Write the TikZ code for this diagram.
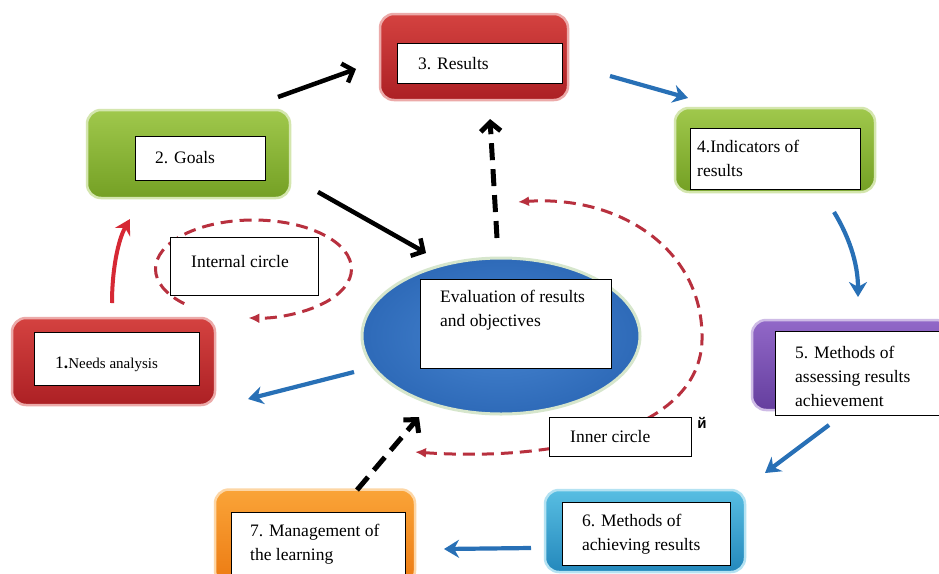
\documentclass[tikz,border=0pt]{standalone}
\usepackage{fontspec}
\setmainfont{Liberation Serif}
\newfontfamily\cyrfont{Liberation Sans}
\usetikzlibrary{arrows.meta,shapes.geometric}
\definecolor{redT}{RGB}{212,66,64}
\definecolor{redB}{RGB}{172,32,36}
\definecolor{grnT}{RGB}{160,200,76}
\definecolor{grnB}{RGB}{116,160,36}
\definecolor{purT}{RGB}{146,104,200}
\definecolor{purB}{RGB}{100,62,158}
\definecolor{cyaT}{RGB}{88,190,226}
\definecolor{cyaB}{RGB}{36,136,188}
\definecolor{orgT}{RGB}{250,164,56}
\definecolor{orgB}{RGB}{236,122,18}
\definecolor{elIn}{RGB}{70,132,208}
\definecolor{elOut}{RGB}{46,106,184}
\definecolor{elEdge}{RGB}{214,230,204}
\definecolor{arBlue}{RGB}{40,112,182}
\definecolor{dashRed}{RGB}{184,48,62}
\definecolor{arRed}{RGB}{214,40,52}
\begin{document}
\begin{tikzpicture}[x=1pt,y=-1pt,
  cbox/.style={rounded corners=14pt, inner sep=0pt, line width=2.5pt},
  wbox/.style={draw=black, fill=white, line width=1pt, inner sep=0pt},
  lbl/.style={anchor=west, align=left, inner sep=0pt, font=\fontsize{17.5}{24}\selectfont},
  blkarrow/.style={draw=black, line width=4.5pt, -{Straight Barb[length=9pt,width=20pt]}},
  blkdash/.style={draw=black, line width=5pt, dash pattern=on 17pt off 9pt, -{Straight Barb[length=9pt,width=20pt]}},
  bluarrow/.style={draw=arBlue, line width=4.2pt, -{Stealth[length=15pt,width=18pt]}},
  redarrow/.style={draw=arRed, line width=4pt, -{Stealth[length=15pt,width=17pt]}},
  rdash/.style={draw=dashRed, line width=3pt, dash pattern=on 12pt off 7pt}
]
\useasboundingbox (0,0) rectangle (939,573);
\fill[white] (0,0) rectangle (939,573);

% coloured boxes
\node[cbox, top color=redT, bottom color=redB, draw=redT!45!white, minimum width=188pt, minimum height=86pt] (b3) at (474,57) {};
\node[cbox, top color=grnT, bottom color=grnB, draw=grnT!45!white, minimum width=203pt, minimum height=88pt] (b2) at (188.5,154) {};
\node[cbox, top color=grnT, bottom color=grnB, draw=grnT!45!white, minimum width=200pt, minimum height=84pt] (b4) at (775,150) {};
\node[cbox, top color=redT, bottom color=redB, draw=redT!45!white, minimum width=203pt, minimum height=87pt] (b1) at (113.5,361.5) {};
\node[cbox, top color=purT, bottom color=purB, draw=purT!45!white, minimum width=198pt, minimum height=90pt] (b5) at (851,365) {};
\node[cbox, top color=cyaT, bottom color=cyaB, draw=cyaT!45!white, minimum width=200pt, minimum height=82pt] (b6) at (645,531) {};
\node[cbox, top color=orgT, bottom color=orgB, draw=orgT!45!white, minimum width=200pt, minimum height=95pt] (b7) at (315,537) {};

% central ellipse
\node[ellipse, inner color=elIn, outer color=elOut, draw=elEdge, line width=3pt, minimum width=278pt, minimum height=156pt, inner sep=0pt] (ev) at (501,336) {};

% dashed circles
\coordinate (ic) at (253.5,269);
\draw[rdash, -{Latex[length=11pt,width=10pt]}] ([shift={(135:98 and 49)}]ic) arc[start angle=135, end angle=453, x radius=98, y radius=49];
\coordinate (oc1) at (415,452);
\coordinate (oc2) at (702,340);
\coordinate (oc3) at (518,202);
\draw[rdash, {Latex[length=11pt,width=10pt]}-{Latex[length=11pt,width=10pt]}] (oc1) .. controls (560,462) and (700,430) .. (oc2) .. controls (704,250) and (620,195) .. (oc3);

% white text boxes
\node[wbox, minimum width=165pt, minimum height=40pt] (w3) at (479.5,63) {};
\node[wbox, minimum width=130pt, minimum height=44pt] (w2) at (200,158) {};
\node[wbox, minimum width=170pt, minimum height=61pt] (w4) at (775,158.5) {};
\node[wbox, minimum width=165pt, minimum height=53pt] (w1) at (116.5,358.5) {};
\node[wbox, minimum width=166pt, minimum height=84pt] (w5) at (858,373) {};
\node[wbox, minimum width=168pt, minimum height=63pt] (w6) at (646,533.5) {};
\node[wbox, minimum width=174pt, minimum height=70pt] (w7) at (318,547) {};
\node[wbox, minimum width=191pt, minimum height=89pt] (we) at (515.5,323.5) {};
\node[wbox, minimum width=148pt, minimum height=58pt] (wi) at (244,266) {};
\node[wbox, minimum width=142pt, minimum height=39pt] (wn) at (620,436.5) {};

% texts
\node[lbl] (t3) at (418,64) {3. Results};
\node[lbl] (t2) at (155,158) {2. Goals};
\node[lbl] (t4) at (697,158) {4.Indicators of\\results};
\node[lbl] (t1) at (55,364) {1\textbf{.}{\fontsize{15}{18}\selectfont Needs analysis}};
\node[lbl] (t5) at (795,376) {5. Methods of\\assessing results\\achievement};
\node[lbl] (t6) at (582,534) {6. Methods of\\achieving results};
\node[lbl] (t7) at (250,544) {7. Management of\\the learning};
\node[lbl] (te) at (440,310) {Evaluation of results\\and objectives};
\node[lbl] (ti) at (191,262) {Internal circle};
\node[lbl] (tn) at (570,437) {Inner circle};
\node[inner sep=0pt, font=\cyrfont\bfseries\fontsize{15}{17}\selectfont] (ty) at (702,423) {й};

% arrows
\coordinate (a1s) at (278,97);   \coordinate (a1e) at (356,69);
\coordinate (a2s) at (610,76);   \coordinate (a2e) at (688,98);
\coordinate (a3s) at (834,212);  \coordinate (a3e) at (858,297);
\coordinate (a4s) at (829,425);  \coordinate (a4e) at (765,473);
\coordinate (a5s) at (531,548);  \coordinate (a5e) at (444,549);
\coordinate (a6s) at (357,490);  \coordinate (a6e) at (419,417);
\coordinate (a7s) at (354,372);  \coordinate (a7e) at (248,399);
\coordinate (a8s) at (112,303);  \coordinate (a8e) at (130,219);
\coordinate (a9s) at (318,192);  \coordinate (a9e) at (426,253);
\coordinate (a10s) at (497,238); \coordinate (a10e) at (490,119);

\draw[blkarrow] (a1s) -- (a1e);
\draw[bluarrow] (a2s) -- (a2e);
\draw[bluarrow] (a3s) .. controls (848,235) and (858,262) .. (a3e);
\draw[bluarrow] (a4s) -- (a4e);
\draw[bluarrow] (a5s) -- (a5e);
\draw[blkdash] (a6s) -- (a6e);
\draw[bluarrow] (a7s) -- (a7e);
\draw[redarrow] (a8s) .. controls (112,270) and (118,240) .. (a8e);
\draw[blkarrow] (a9s) -- (a9e);
\draw[blkdash] (a10s) -- (a10e);
\end{tikzpicture}
\end{document}
